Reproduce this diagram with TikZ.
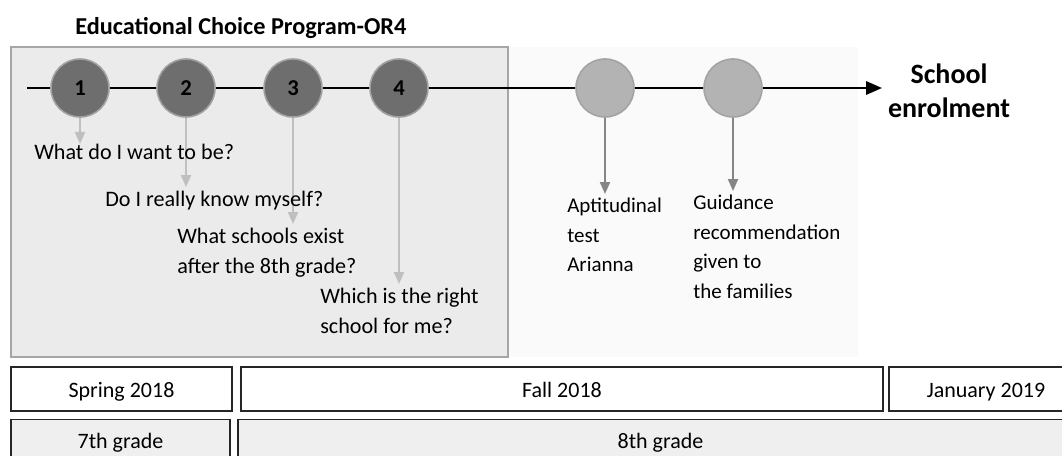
\documentclass[tikz,border=0pt]{standalone}
\usepackage{fontspec}
\setmainfont{Carlito}
\usetikzlibrary{arrows.meta}
\pgfdeclarelayer{back}
\pgfdeclarelayer{lines}
\pgfsetlayers{back,lines,main}
\definecolor{panegray}{HTML}{EBEBEB}
\definecolor{paneline}{HTML}{A6A6A6}
\definecolor{panelight}{HTML}{FAFAFA}
\definecolor{dotdark}{HTML}{6E6E6E}
\definecolor{dotdarkline}{HTML}{A0A0A0}
\definecolor{dotlight}{HTML}{B3B3B3}
\definecolor{dotlightline}{HTML}{A3A3A3}
\definecolor{askarrow}{HTML}{BFBFBF}
\definecolor{steparrow}{HTML}{858585}
\definecolor{gradefill}{HTML}{EFEFEF}
\begin{document}
\begin{tikzpicture}[x=0.75pt, y=-0.75pt, >={Triangle[length=9pt, width=7.5pt]},
    font=\fontsize{15.75}{22.1}\selectfont,
    dot/.style={circle, minimum size=43.5pt, inner sep=0pt, line width=1.2pt,
        font=\fontsize{17}{17}\selectfont\bfseries},
    darkdot/.style={dot, fill=dotdark, draw=dotdarkline},
    lightdot/.style={dot, fill=dotlight, draw=dotlightline},
    note/.style={anchor=north west, inner sep=0pt, align=left},
    question/.style={note, font=\fontsize{16.6}{22.1}\selectfont},
    ask/.style={->, line width=1.5pt, draw=askarrow, shorten >=3pt},
    stepdown/.style={->, line width=1.5pt, draw=steparrow, shorten >=3pt},
    period/.style={draw=black!85, line width=1.1pt, minimum height=33pt, inner sep=0pt,
        text height=12pt, text depth=0pt, font=\fontsize{16.5}{16.5}\selectfont}]
    \useasboundingbox (0,0) rectangle (1062,456);
    \begin{pgfonlayer}{back}
    \fill[panelight] (508,47) rectangle (858,357);
    \draw[fill=panegray, draw=paneline, line width=1.1pt] (11,47) rectangle (508,357);
    \end{pgfonlayer}
    \node[anchor=west, inner sep=0pt, font=\fontsize{18.2}{18.2}\selectfont\bfseries]
        (title) at (75,28) {Educational Choice Program-OR4};
    \coordinate (tlstart) at (27,88);
    \coordinate (tlend) at (882,88);
    \node[darkdot] (s1) at (80,88) {1};
    \node[darkdot] (s2) at (186,88) {2};
    \node[darkdot] (s3) at (293,88) {3};
    \node[darkdot] (s4) at (399,88) {4};
    \node[lightdot] (test) at (605,88) {};
    \node[lightdot] (advice) at (733,88) {};
    \node[align=center, font=\fontsize{21}{25.5}\selectfont\bfseries]
        (enrol) at (949,91) {School\\enrolment};
    \node[question] (q1) at (34,144) {What do I want to be?};
    \node[question] (q2) at (105,191) {Do I really know myself?};
    \node[question] (q3) at (177,228) {What schools exist\\after the 8th grade?};
    \node[question] (q4) at (320,288) {Which is the right\\school for me?};
    \node[note] (a1) at (567,198) {Aptitudinal\\test\\Arianna};
    \node[note] (g1) at (693,195) {Guidance\\recommendation\\given to\\the families};
    \begin{pgfonlayer}{lines}
    \draw[->, >={Triangle[length=12pt, width=10pt]}, line width=1.8pt] (tlstart) -- (tlend);
    \draw[ask, shorten >=0pt] (s1) -- (s1 |- q1.north);
    \draw[ask] (s2) -- (s2 |- q2.north);
    \draw[ask] (s3) -- (s3 |- q3.north);
    \draw[ask] (s4) -- (s4 |- q4.north);
    \draw[stepdown] (test) -- (test |- a1.north);
    \draw[stepdown] (advice) -- (advice |- g1.north);
    \end{pgfonlayer}
    \node[period, minimum width=165.75pt] (spring) at (121.5,389) {Spring 2018};
    \node[period, minimum width=481.5pt] (fall) at (562,389) {Fall 2018};
    \node[period, minimum width=145.5pt] (january) at (986,389) {January 2019};
    \node[period, fill=gradefill, minimum width=164.25pt, minimum height=33.75pt,
        text height=9pt] (seventh) at (120.5,442) {7th grade};
    \node[period, fill=gradefill, minimum width=633.75pt, minimum height=33.75pt,
        text height=9pt] (eighth) at (660.5,442) {8th grade};
\end{tikzpicture}
\end{document}
